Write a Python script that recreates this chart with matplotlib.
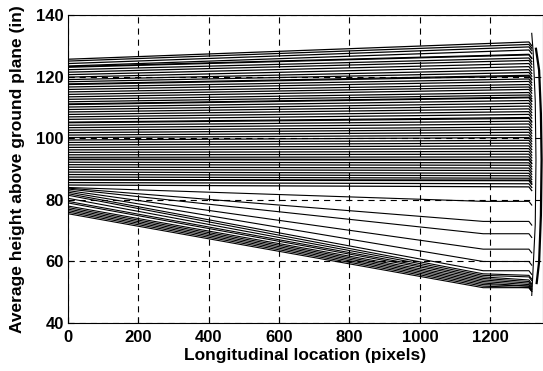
import numpy as np
import matplotlib.pyplot as plt

# upper family: nearly flat, drifting up a little toward the far end
upper_start = [125.6, 125.0, 124.2, 123.4, 123.2, 123.0, 122.2, 121.4, 120.6, 119.8,
               119.0, 118.3, 117.6, 117.4, 116.6, 115.8, 115.0, 114.2, 113.4, 112.6,
               111.8, 111.1, 110.9, 110.1, 109.3, 108.5, 107.7, 106.9, 106.1, 105.2,
               105.0, 104.2, 103.4, 102.6, 101.8, 101.0, 100.2, 99.4, 98.6, 97.8,
               97.0, 96.2, 95.4, 94.6, 93.8, 93.2, 93.0, 92.2, 91.4, 90.6,
               89.8, 89.0, 88.2, 87.4, 86.6, 86.4, 85.6, 84.8]
upper_end = [131.2, 130.4, 129.6, 128.6, 127.2, 127.0, 126.0, 125.2, 124.2, 123.2,
             122.2, 121.3, 120.4, 120.1, 119.2, 118.4, 117.4, 116.6, 115.8, 114.8,
             114.0, 113.3, 113.1, 112.2, 111.3, 110.4, 109.5, 108.6, 107.7, 106.7,
             106.4, 105.5, 104.6, 103.6, 102.8, 101.9, 101.0, 100.2, 99.3, 98.4,
             97.5, 96.6, 95.7, 94.8, 93.9, 93.1, 92.9, 92.0, 91.2, 90.3,
             89.5, 88.6, 87.8, 87.0, 86.4, 86.2, 85.2, 84.2]

# lower family: descending toward the far end
lower_start = [84.0, 83.8, 83.5, 83.0, 82.5, 82.0, 81.5, 80.5, 79.5, 79.0,
               78.0, 77.5, 77.0, 76.5, 76.0, 75.5]
lower_mid = [79.5, 73.0, 69.0, 64.0, 60.0, 57.0, 56.0, 55.5, 55.0, 54.5,
             54.0, 53.5, 53.0, 52.5, 52.0, 51.5]
lower_end = [79.5, 73.0, 69.0, 64.0, 60.0, 57.0, 55.5, 55.0, 54.0, 53.5,
             53.0, 52.5, 52.0, 52.0, 51.5, 51.5]

x_nodes = [0, 1180, 1310, 1318]

# bowed traces at the far end
spine1_x = [1318, 1322, 1328, 1330, 1328, 1322, 1318]
spine1_y = [134, 128, 112, 93, 72, 58, 49]
spine2_x = [1330, 1339, 1344, 1346, 1344, 1339, 1332]
spine2_y = [129, 122, 108, 93, 75, 60, 53]

fig = plt.figure(figsize=(5.43, 3.71), dpi=100)
ax = fig.add_axes([0.125, 0.129, 0.875, 0.831])

for s, e in zip(upper_start, upper_end):
    ax.plot([0, 1310, 1318], [s, e, e - 1.2], color='k', lw=0.9)

for s, m, e in zip(lower_start, lower_mid, lower_end):
    ax.plot(x_nodes, [s, m, e, e - 1.2], color='k', lw=0.8)

ax.plot(spine1_x, spine1_y, color='k', lw=0.8)
ax.plot(spine2_x, spine2_y, color='k', lw=1.6)

ax.set_xlim(0, 1350)
ax.set_ylim(40, 140)
ax.set_xticks(np.arange(0, 1201, 200))
ax.set_yticks(np.arange(40, 141, 20))
ax.grid(True, color='k', linestyle=(0, (5.5, 4.5)), lw=0.8)
ax.tick_params(direction='in', length=4, width=0.8, pad=3)
ax.tick_params(axis='x', pad=5)
for lab in ax.get_xticklabels() + ax.get_yticklabels():
    lab.set_fontfamily('Liberation Sans')
    lab.set_fontweight('bold')
    lab.set_fontsize(12)
for sp in ax.spines.values():
    sp.set_linewidth(0.8)

ax.set_xlabel('Longitudinal location (pixels)', fontfamily='Liberation Sans',
              fontweight='bold', fontsize=12.5, labelpad=2)
ax.set_ylabel('Average height above ground plane (in)', fontfamily='Liberation Sans',
              fontweight='bold', fontsize=12.5, labelpad=8)

fig.savefig('out.png', dpi=100)
